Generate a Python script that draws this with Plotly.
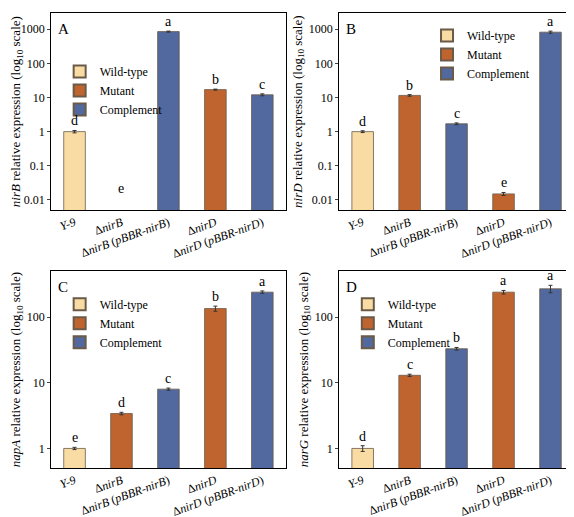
import plotly.graph_objects as go
import math

cats = ["Y-9", "ΔnirB", "ΔnirB (pBBR-nirB)", "ΔnirD", "ΔnirD (pBBR-nirD)"]
tick_labels = ["<i>Y-9</i>", "Δ<i>nirB</i>", "Δ<i>nirB</i> (<i>pBBR-nirB</i>)",
               "Δ<i>nirD</i>", "Δ<i>nirD</i> (<i>pBBR-nirD</i>)"]
groups = ["Wild-type", "Mutant", "Complement", "Mutant", "Complement"]

nirB_vals = [1.0, None, 850, 17, 12]
nirB_err = [0.08, 0, 30, 0.6, 0.8]
nirB_letters = ["d", "e", "a", "b", "c"]

nirD_vals = [1.0, 11.5, 1.7, 0.015, 820]
nirD_err = [0.06, 0.6, 0.1, 0.0015, 60]
nirD_letters = ["d", "b", "c", "e", "a"]

napA_vals = [1.0, 3.4, 8.0, 135, 240]
napA_err = [0.04, 0.15, 0.3, 12, 10]
napA_letters = ["e", "d", "c", "b", "a"]

narG_vals = [1.0, 13, 33, 240, 270]
narG_err = [0.1, 0.5, 1.5, 15, 35]
narG_letters = ["d", "c", "b", "a", "a"]

colors = {"Wild-type": "#F9DCA3", "Mutant": "#C0642F", "Complement": "#51699E"}

panels = [
    dict(v=nirB_vals, e=nirB_err, l=nirB_letters, gene="nirB", tag="A",
         xd=[0.075, 0.484], yd=[0.609, 0.990], rng=[-2.3, 3.47],
         tv=[0.01, 0.1, 1, 10, 100, 1000], tt=["0.01", "0.1", "1", "10", "100", "1000"], leg=(0.09, 0.905)),
    dict(v=nirD_vals, e=nirD_err, l=nirD_letters, gene="nirD", tag="B",
         xd=[0.577, 0.986], yd=[0.609, 0.990], rng=[-2.3, 3.47],
         tv=[0.01, 0.1, 1, 10, 100, 1000], tt=["0.01", "0.1", "1", "10", "100", "1000"], leg=(0.73, 0.975)),
    dict(v=napA_vals, e=napA_err, l=napA_letters, gene="napA", tag="C",
         xd=[0.075, 0.484], yd=[0.110, 0.491], rng=[-0.3, 2.7],
         tv=[1, 10, 100], tt=["1", "10", "100"], leg=(0.09, 0.455)),
    dict(v=narG_vals, e=narG_err, l=narG_letters, gene="narG", tag="D",
         xd=[0.577, 0.986], yd=[0.110, 0.491], rng=[-0.3, 2.7],
         tv=[1, 10, 100], tt=["1", "10", "100"], leg=(0.592, 0.455)),
]

fig = go.Figure()
font = "Liberation Serif"
annotations = []
for i, p in enumerate(panels):
    sfx = "" if i == 0 else str(i + 1)
    xa, ya = "x" + sfx, "y" + sfx
    lg = "legend" if i == 0 else "legend" + str(i + 1)
    for g in ["Wild-type", "Mutant", "Complement"]:
        idx = [k for k in range(5) if groups[k] == g]
        fig.add_trace(go.Bar(
            x=[cats[k] for k in idx], y=[p["v"][k] for k in idx],
            error_y=dict(type="data", array=[p["e"][k] for k in idx], color="#333", thickness=1, width=2),
            marker=dict(color=colors[g], line=dict(color="#6b5a48", width=0.8)),
            width=0.46, name=g, xaxis=xa, yaxis=ya, legend=lg))
    for k in range(5):
        v = p["v"][k]
        yl = math.log10(0.011) if v is None else math.log10(v + p["e"][k])
        annotations.append(dict(x=cats[k], y=yl, xref=xa, yref=ya, text=p["l"][k],
                                showarrow=False, yanchor="bottom",
                                font=dict(family=font, size=14, color="black")))
    annotations.append(dict(x=0.02, y=0.97, xref=xa + " domain", yref=ya + " domain", text=p["tag"],
                            showarrow=False, xanchor="left", yanchor="top",
                            font=dict(family=font, size=15, color="black")))
    axkw = dict(showline=True, linecolor="black", linewidth=1, mirror=True)
    fig.layout["xaxis" + sfx] = dict(domain=p["xd"], anchor=ya, type="category",
                                     categoryorder="array", categoryarray=cats,
                                     tickvals=cats, ticktext=tick_labels, tickangle=-20,
                                     ticks="", tickfont=dict(family=font, size=12, color="black"), **axkw)
    fig.layout["yaxis" + sfx] = dict(domain=p["yd"], anchor=xa, type="log", range=p["rng"],
                                     tickvals=p["tv"], ticktext=p["tt"], ticks="outside", ticklen=3,
                                     showgrid=False, tickfont=dict(family=font, size=12, color="black"),
                                     title=dict(text="<i>%s</i> relative expression (log<sub>10</sub> scale)" % p["gene"],
                                                font=dict(family=font, size=13, color="black"), standoff=3),
                                     **axkw)
    fig.layout[lg] = dict(x=p["leg"][0], y=p["leg"][1], xanchor="left", yanchor="top",
                          bgcolor="rgba(0,0,0,0)", font=dict(family=font, size=12, color="black"),
                          itemsizing="constant", tracegroupgap=0)

fig.update_layout(width=574, height=517, margin=dict(l=0, r=0, t=0, b=0),
                  plot_bgcolor="white", paper_bgcolor="white", barmode="overlay",
                  annotations=annotations, showlegend=True)
fig.write_html("out.html")
